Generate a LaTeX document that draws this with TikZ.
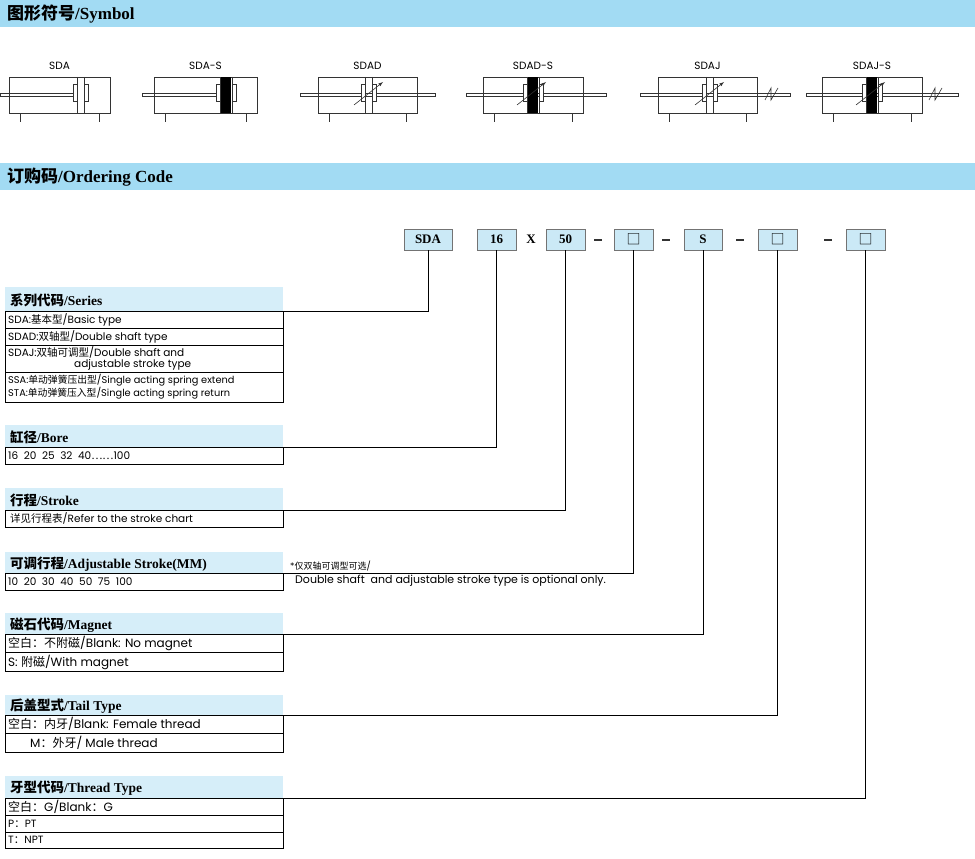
\documentclass[tikz,border=0pt]{standalone}
\usepackage{fontspec}
\setmainfont{Liberation Serif}
\setsansfont{Poppins}
\newfontfamily\zh{Noto Sans CJK SC}
\newfontfamily\zhb{Noto Sans CJK SC Bold}
\usetikzlibrary{calc}
\definecolor{barblue}{HTML}{A2DBF3}
\definecolor{tbblue}{HTML}{D6EEF9}
\definecolor{cbblue}{HTML}{CBE9F6}
\tikzset{
 sym/.style={draw=black!80,line width=0.6pt},
 bartxt/.style={anchor=west,font=\fontsize{17}{17}\selectfont\bfseries,inner sep=0},
 code/.style={draw=black!55,fill=cbblue,minimum height=21pt,inner sep=0,font=\fontsize{13}{13}\selectfont\bfseries},
 dashn/.style={inner sep=0,minimum width=8pt,minimum height=2pt,fill=black!80},
 ttl/.style={anchor=west,inner sep=0,font=\fontsize{13.5}{13.5}\selectfont\bfseries},
 row/.style={anchor=west,inner sep=0,font=\sffamily\fontsize{10.5}{11.5}\selectfont},
 conn/.style={draw=black,line width=0.7pt},
 lbl/.style={font=\sffamily\fontsize{10.5}{11}\selectfont,inner sep=0}
}
\newcommand\cylsym[9]{% x0 x1 rodL rodR pist thick adj zmark label
 \draw[sym] (#1,77) rectangle (#2,113);
 \draw[sym] (#3,93) rectangle (#4,96);
 \draw[sym] (#1+11,113) -- (#1+11,122);
 \draw[sym] (#2-11,113) -- (#2-11,122);
 \ifnum#6=1
  \fill[black] (#5,77) rectangle (#5+10,113);
  \draw[sym] (#5-1,77)--(#5-1,113) (#5+11,77)--(#5+11,113);
  \draw[sym,fill=white] (#5-5,84) rectangle (#5-1,101);
  \draw[sym,fill=white] (#5+11,84) rectangle (#5+15,101);
 \else
  \draw[sym] (#5,77)--(#5,113) (#5+7,77)--(#5+7,113);
  \draw[sym,fill=white] (#5-4,84) rectangle (#5,101);
  \draw[sym,fill=white] (#5+7,84) rectangle (#5+11,101);
 \fi
 \ifnum#7=1 \draw[sym,-latex] (#5-11,105) -- (#5+18,82); \fi
 \ifnum#8>0 \draw[sym] (#8-6,100) -- (#8,88) -- (#8,100) -- (#8+7,88); \fi
 \node[lbl] at ({(#1+#2)/2},66) {#9};
}
\begin{document}
\begin{tikzpicture}[x=1pt,y=-1pt]
\useasboundingbox (0,0) rectangle (975,859);
% header bars
\fill[barblue] (0,0) rectangle (975,27);
\node[bartxt] (h1) at (7,14) {{\zhb 图形符号}/Symbol};
\fill[barblue] (0,163) rectangle (975,190);
\node[bartxt] (h2) at (7,177) {{\zhb 订购码}/Ordering Code};
% symbols
\cylsym{9}{110}{0}{73}{77}{0}{0}{0}{SDA}
\cylsym{154}{257}{142}{218}{221}{1}{0}{0}{SDA-S}
\cylsym{318}{417}{300}{435}{365}{0}{1}{0}{SDAD}
\cylsym{483}{583}{466}{606}{528}{1}{1}{0}{SDAD-S}
\cylsym{658}{757}{640}{790}{706}{0}{1}{771}{SDAJ}
\cylsym{822}{922}{806}{958}{867}{1}{1}{935}{SDAJ-S}
% code boxes
\node[code,minimum width=48pt] (c1) at (428,239.5) {SDA};
\node[code,minimum width=39pt] (c2) at (496.5,239.5) {16};
\node[font=\fontsize{13}{13}\selectfont\bfseries] (cx) at (531,239.5) {X};
\node[code,minimum width=39pt] (c3) at (565.5,239.5) {50};
\node[dashn] (d1) at (598,240) {};
\node[code,minimum width=39pt,font=\zh\fontsize{14}{14}\selectfont] (c4) at (633.5,239.5) {□};
\node[dashn,minimum height=1.2pt] (d2) at (666,240) {};
\node[code,minimum width=38pt] (c5) at (703,239.5) {S};
\node[dashn,minimum height=1.2pt] (d3) at (740,240) {};
\node[code,minimum width=39pt,font=\zh\fontsize{14}{14}\selectfont] (c6) at (777.5,239.5) {□};
\node[dashn,minimum height=1.2pt] (d4) at (828,240) {};
\node[code,minimum width=39pt,font=\zh\fontsize{14}{14}\selectfont] (c7) at (865.5,239.5) {□};
% Series
\fill[tbblue] (5,287) rectangle (283,311);
\node[ttl] (t1) at (10,300) {{\zhb 系列代码}/Series};
\draw[line width=0.7pt] (5,311) rectangle (283,402);
\draw[line width=0.5pt] (5,328)--(283,328) (5,345)--(283,345) (5,372)--(283,372);
\node[row] (r11) at (8,320) {SDA:{\zh 基本型}/Basic type};
\node[row] (r12) at (8,337) {SDAD:{\zh 双轴型}/Double shaft type};
\node[row,align=left] (r13) at (8,358.5) {SDAJ:{\zh 双轴可调型}/Double shaft and\\\hspace*{66pt}adjustable stroke type};
\node[row,align=left,font=\sffamily\fontsize{9.8}{11.5}\selectfont] (r14) at (8,387) {SSA:{\zh 单动弹簧压出型}/Single acting spring extend\\STA:{\zh 单动弹簧压入型}/Single acting spring return};
\coordinate (j1) at (283,311);
\draw[conn] (c1.south) |- (j1);
% Bore
\fill[tbblue] (5,425) rectangle (283,447);
\node[ttl] (t2) at (10,437) {{\zhb 缸径}/Bore};
\draw[line width=0.7pt] (5,447) rectangle (283,464);
\node[row] (r21) at (8,456) {16\ \ 20\ \ 25\ \ 32\ \ 40{\zh ……}100};
\coordinate (j2) at (283,447);
\draw[conn] (c2.south) |- (j2);
% Stroke
\fill[tbblue] (5,488) rectangle (283,510);
\node[ttl] (t3) at (10,500) {{\zhb 行程}/Stroke};
\draw[line width=0.7pt] (5,510) rectangle (283,527);
\node[row] (r31) at (10,518.5) {{\zh 详见行程表}/Refer to the stroke chart};
\coordinate (j3) at (283,510);
\draw[conn] (c3.south) |- (j3);
% Adjustable
\fill[tbblue] (5,552) rectangle (283,573);
\node[ttl] (t4) at (10,564) {{\zhb 可调行程}/Adjustable Stroke(MM)};
\draw[line width=0.7pt] (5,573) rectangle (283,590);
\node[row] (r41) at (8,582) {10\ \ 20\ \ 30\ \ 40\ \ 50\ \ 75\ \ 100};
\node[row,font=\sffamily\fontsize{9}{10}\selectfont] (n1) at (290,566) {*{\zh 仅双轴可调型可选}/};
\node[row,font=\sffamily\fontsize{11}{11}\selectfont] (n2) at (295,581) {Double shaft\ \ and adjustable stroke type is optional only.};
\coordinate (j4) at (283,573);
\draw[conn] (c4.south) |- (j4);
% Magnet
\fill[tbblue] (5,613) rectangle (283,634);
\node[ttl] (t5) at (10,625) {{\zhb 磁石代码}/Magnet};
\draw[line width=0.7pt] (5,634) rectangle (283,671);
\draw[line width=0.5pt] (5,652)--(283,652);
\node[row,font=\sffamily\fontsize{12}{12}\selectfont] (r51) at (8,643) {{\zh 空白：不附磁}/Blank: No magnet};
\node[row,font=\sffamily\fontsize{12}{12}\selectfont] (r52) at (8,662) {S:\ {\zh 附磁}/With magnet};
\coordinate (j5) at (283,634);
\draw[conn] (c5.south) |- (j5);
% Tail
\fill[tbblue] (5,695) rectangle (283,715);
\node[ttl] (t6) at (10,706) {{\zhb 后盖型式}/Tail Type};
\draw[line width=0.7pt] (5,715) rectangle (283,752);
\draw[line width=0.5pt] (5,733)--(283,733);
\node[row,font=\sffamily\fontsize{12}{12}\selectfont] (r61) at (8,724) {{\zh 空白：内牙}/Blank: Female thread};
\node[row,font=\sffamily\fontsize{12}{12}\selectfont] (r62) at (30,743) {M{\zh ：外牙}/ Male thread};
\coordinate (j6) at (283,715);
\draw[conn] (c6.south) |- (j6);
% Thread
\fill[tbblue] (5,776) rectangle (283,798);
\node[ttl] (t7) at (10,788) {{\zhb 牙型代码}/Thread Type};
\draw[line width=0.7pt] (5,798) rectangle (283,848);
\draw[line width=0.5pt] (5,815)--(283,815) (5,832)--(283,832);
\node[row,font=\sffamily\fontsize{12}{12}\selectfont] (r71) at (8,806.5) {{\zh 空白：}G/Blank{\zh ：}G};
\node[row] (r72) at (8,823.5) {P{\zh ：}PT};
\node[row] (r73) at (8,840) {T{\zh ：}NPT};
\coordinate (j7) at (283,798);
\draw[conn] (c7.south) |- (j7);
\end{tikzpicture}
\end{document}
